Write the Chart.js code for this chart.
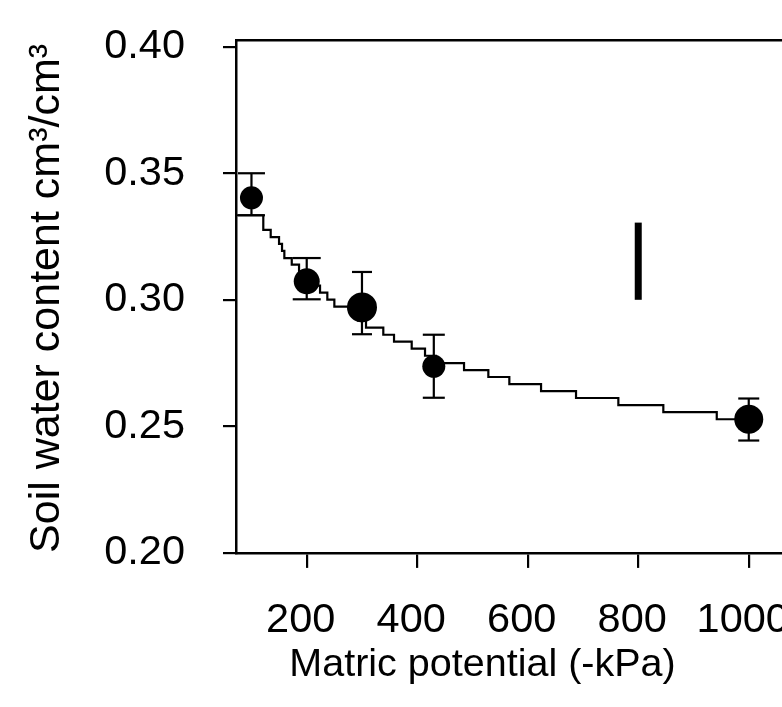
<!DOCTYPE html>
<html>
<head>
<meta charset="utf-8">
<script src="https://cdn.jsdelivr.net/npm/chart.js@4/dist/chart.umd.min.js"></script>
<style>
  html, body { margin: 0; padding: 0; background: #fff; width: 782px; height: 707px; overflow: hidden; }
  canvas { display: block; }
</style>
</head>
<body>
<canvas id="c" width="965" height="707" style="width:965px;height:707px"></canvas>
<script>
// ---- data ----
const xTicks = [200, 400, 600, 800, 1000];
const yTicks = [0.20, 0.25, 0.30, 0.35, 0.40];

// measured means (-kPa, cm3/cm3)
const ptX = [100, 200, 300, 430, 1000];
const ptY = [0.3403, 0.3073, 0.2970, 0.2737, 0.2528];
const errLow = [0.3334, 0.3002, 0.2864, 0.2613, 0.2444];
const errHigh = [0.3500, 0.3165, 0.3110, 0.2862, 0.2610];

// fitted retention curve (drawn as a staircase)
const curveX = [72, 121.4, 134.8, 149.9, 155.3, 159.5, 172.9, 186.1, 198.7, 211.4,
                224.1, 237.3, 250.0, 278.4, 292.9, 307.3, 338.6, 358.0, 390.0, 414.1,
                434.0, 484.7, 528.7, 566.7, 624.1, 687.4, 764.0, 845.4, 942.1, 1000];
const curveY = [0.3334, 0.3276, 0.3248, 0.3221, 0.3193, 0.3165, 0.3139, 0.3112, 0.3084, 0.3056,
                0.3028, 0.3001, 0.2973, 0.2945, 0.2918, 0.2890, 0.2862, 0.2835, 0.2807, 0.2779,
                0.2750, 0.2722, 0.2695, 0.2667, 0.2639, 0.2612, 0.2584, 0.2556, 0.2528, 0.2528];

// LSD bar
const lsdX = [800, 800];
const lsdY = [0.3000, 0.3305];

// ---- styles ----
const FONT = "'Liberation Sans', Arial, Helvetica, sans-serif";
const markerRadius = [11.5, 13, 15, 11.5, 14.5];
const capHalf = [13.5, 14, 10, 11, 10.5];

const pts = ptX.map((x, i) => ({ x: x, y: ptY[i] }));
const curve = curveX.map((x, i) => ({ x: x, y: curveY[i] }));
const lsd = lsdX.map((x, i) => ({ x: x, y: lsdY[i] }));
const errData = [];
ptX.forEach((x, i) => {
  errData.push({ x: x, y: errLow[i] });
  errData.push({ x: x, y: errHigh[i] });
  errData.push({ x: x, y: null });
});

function noPad(s) { s.paddingTop = 0; s.paddingBottom = 0; s.paddingLeft = 0; s.paddingRight = 0; }

new Chart(document.getElementById('c'), {
  type: 'scatter',
  data: {
    datasets: [
      {
        label: 'means',
        data: pts,
        showLine: false,
        pointStyle: 'circle',
        pointRadius: markerRadius,
        pointHoverRadius: markerRadius,
        pointBackgroundColor: '#000',
        pointBorderColor: '#000',
        pointBorderWidth: 0
      },
      {
        label: 'error',
        data: errData,
        showLine: true,
        spanGaps: false,
        borderColor: '#000',
        borderWidth: 2.2,
        borderCapStyle: 'butt',
        pointStyle: 'line',
        pointRadius: ctx => capHalf[Math.floor(ctx.dataIndex / 3)],
        pointBorderColor: '#000',
        pointBorderWidth: 2.2
      },
      {
        label: 'LSD',
        data: lsd,
        showLine: true,
        borderColor: '#000',
        borderWidth: 7,
        borderCapStyle: 'butt',
        pointRadius: 0
      },
      {
        label: 'fit',
        data: curve,
        showLine: true,
        stepped: true,
        tension: 0,
        borderColor: '#000',
        borderWidth: 2.2,
        pointRadius: 0
      }
    ]
  },
  options: {
    responsive: false,
    animation: false,
    devicePixelRatio: 1,
    events: [],
    layout: { padding: { top: 40, left: 0, right: 0, bottom: 18 } },
    plugins: {
      legend: { display: false },
      tooltip: { enabled: false },
      title: {
        display: true,
        position: 'bottom',
        fullSize: true,
        align: 'center',
        text: 'Matric potential (-kPa)',
        color: '#000',
        font: { family: FONT, size: 39.5, weight: 'normal' },
        padding: { top: 8.7, bottom: 0 }
      }
    },
    scales: {
      x: {
        type: 'linear',
        position: 'bottom',
        min: 72,
        max: 1100,
        afterBuildTicks: s => { s.ticks = xTicks.map(v => ({ value: v })); },
        afterFit: s => { s.height = 80; noPad(s); },
        grid: { display: true, drawOnChartArea: false, drawTicks: true, tickLength: 15, color: '#000', lineWidth: 2.2 },
        border: { display: true, color: '#000', width: 2.5 },
        ticks: {
          color: '#000', padding: 27.6, autoSkip: false, maxRotation: 0, minRotation: 0,
          labelOffset: -6,
          font: { family: FONT, size: 41.5 },
          callback: v => String(v)
        }
      },
      x2: {
        type: 'linear',
        position: 'top',
        display: true,
        afterFit: s => { s.height = 0; noPad(s); },
        grid: { display: false, drawTicks: false },
        border: { display: true, color: '#000', width: 2.5 },
        ticks: { display: false }
      },
      y: {
        type: 'linear',
        position: 'left',
        min: 0.20,
        max: 0.40265,
        afterBuildTicks: s => { s.ticks = yTicks.map(v => ({ value: v })); },
        afterFit: s => { s.width = 236; noPad(s); },
        grid: { display: true, drawOnChartArea: false, drawTicks: true, tickLength: 13, color: '#000', lineWidth: 2.2 },
        border: { display: true, color: '#000', width: 2.5 },
        ticks: {
          color: '#000', padding: 38, autoSkip: false,
          font: { family: FONT, size: 41.5 },
          callback: v => Number(v).toFixed(2)
        },
        title: {
          display: true,
          align: 'start',
          text: 'Soil water content cm³/cm³',
          color: '#000',
          font: { family: FONT, size: 43 },
          padding: { top: 21.8, bottom: 0 }
        }
      },
      y2: {
        type: 'linear',
        position: 'right',
        display: true,
        afterFit: s => { s.width = 161; noPad(s); },
        grid: { display: false, drawTicks: false },
        border: { display: true, color: '#000', width: 2.5 },
        ticks: { display: false }
      }
    }
  }
});
</script>
</body>
</html>
